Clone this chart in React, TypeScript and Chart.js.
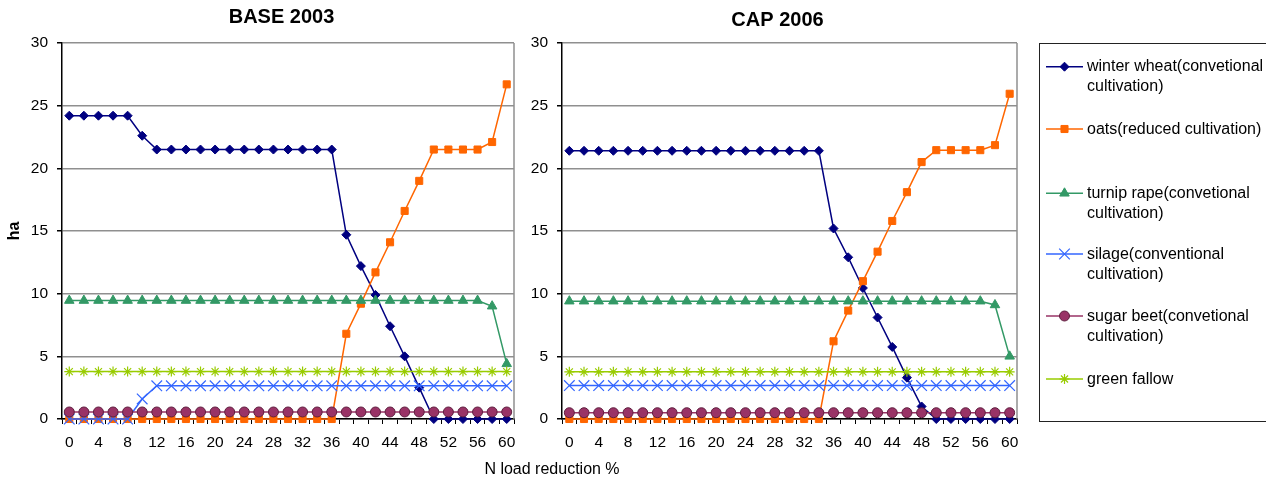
import React, { useEffect, useRef } from "react";
import { Chart, registerables } from "chart.js";
import { drawPoint } from "chart.js/helpers";

Chart.register(...registerables);

// ---------- data ----------
const xCategories = ["0","2","4","6","8","10","12","14","16","18","20","22","24","26","28","30","32","34","36","38","40","42","44","46","48","50","52","54","56","58","60"];

const seriesNames = [
  "winter wheat(convetional cultivation)",
  "oats(reduced cultivation)",
  "turnip rape(convetional cultivation)",
  "silage(conventional cultivation)",
  "sugar beet(convetional cultivation)",
  "green fallow",
];
const legendLines = [
  ["winter wheat(convetional", "cultivation)"],
  ["oats(reduced cultivation)"],
  ["turnip rape(convetional", "cultivation)"],
  ["silage(conventional", "cultivation)"],
  ["sugar beet(convetional", "cultivation)"],
  ["green fallow"],
];

// BASE 2003
const baseWheat = [24.2,24.2,24.2,24.2,24.2,22.6,21.5,21.5,21.5,21.5,21.5,21.5,21.5,21.5,21.5,21.5,21.5,21.5,21.5,14.7,12.2,9.9,7.4,5.0,2.5,0,0,0,0,0,0];
const baseOats = [0,0,0,0,0,0,0,0,0,0,0,0,0,0,0,0,0,0,0,6.8,9.2,11.7,14.1,16.6,19.0,21.5,21.5,21.5,21.5,22.1,26.7];
const baseTurnip = [9.45,9.45,9.45,9.45,9.45,9.45,9.45,9.45,9.45,9.45,9.45,9.45,9.45,9.45,9.45,9.45,9.45,9.45,9.45,9.45,9.45,9.45,9.45,9.45,9.45,9.45,9.45,9.45,9.45,9.0,4.4];
const baseSilage = [0,0,0,0,0,1.6,2.65,2.65,2.65,2.65,2.65,2.65,2.65,2.65,2.65,2.65,2.65,2.65,2.65,2.65,2.65,2.65,2.65,2.65,2.65,2.65,2.65,2.65,2.65,2.65,2.65];
const baseBeet = [0.56,0.56,0.56,0.56,0.56,0.56,0.56,0.56,0.56,0.56,0.56,0.56,0.56,0.56,0.56,0.56,0.56,0.56,0.56,0.56,0.56,0.56,0.56,0.56,0.56,0.56,0.56,0.56,0.56,0.56,0.56];
const baseFallow = [3.78,3.78,3.78,3.78,3.78,3.78,3.78,3.78,3.78,3.78,3.78,3.78,3.78,3.78,3.78,3.78,3.78,3.78,3.78,3.78,3.78,3.78,3.78,3.78,3.78,3.78,3.78,3.78,3.78,3.78,3.78];

// CAP 2006
const capWheat = [21.4,21.4,21.4,21.4,21.4,21.4,21.4,21.4,21.4,21.4,21.4,21.4,21.4,21.4,21.4,21.4,21.4,21.4,15.2,12.9,10.45,8.1,5.75,3.3,1.0,0,0,0,0,0,0];
const capOats = [0,0,0,0,0,0,0,0,0,0,0,0,0,0,0,0,0,0,6.2,8.65,11.0,13.35,15.8,18.1,20.5,21.45,21.45,21.45,21.45,21.85,25.95];
const capTurnip = [9.4,9.4,9.4,9.4,9.4,9.4,9.4,9.4,9.4,9.4,9.4,9.4,9.4,9.4,9.4,9.4,9.4,9.4,9.4,9.4,9.4,9.4,9.4,9.4,9.4,9.4,9.4,9.4,9.4,9.1,5.0];
const capSilage = [2.67,2.67,2.67,2.67,2.67,2.67,2.67,2.67,2.67,2.67,2.67,2.67,2.67,2.67,2.67,2.67,2.67,2.67,2.67,2.67,2.67,2.67,2.67,2.67,2.67,2.67,2.67,2.67,2.67,2.67,2.67];
const capBeet = [0.5,0.5,0.5,0.5,0.5,0.5,0.5,0.5,0.5,0.5,0.5,0.5,0.5,0.5,0.5,0.5,0.5,0.5,0.5,0.5,0.5,0.5,0.5,0.5,0.5,0.5,0.5,0.5,0.5,0.5,0.5];
const capFallow = [3.76,3.76,3.76,3.76,3.76,3.76,3.76,3.76,3.76,3.76,3.76,3.76,3.76,3.76,3.76,3.76,3.76,3.76,3.76,3.76,3.76,3.76,3.76,3.76,3.76,3.76,3.76,3.76,3.76,3.76,3.76];

const yTicks = [0, 5, 10, 15, 20, 25, 30];

// ---------- styles ----------
const FONT = "'Liberation Sans', Arial, Helvetica, sans-serif";
const seriesStyles = [
  { color: "#000080", fill: "#000080", edge: "#000080", pointStyle: "rectRot", radius: 4.5, bw: 1 },
  { color: "#FF6600", fill: "#FF6600", edge: "#FF6600", pointStyle: "rect", radius: 5, bw: 1 },
  { color: "#339966", fill: "#339966", edge: "#339966", pointStyle: "triangle", radius: 5.5, bw: 1 },
  { color: "#3366FF", fill: "#3366FF", edge: "#3366FF", pointStyle: "crossRot", radius: 7.5, bw: 1.2 },
  { color: "#993366", fill: "#993366", edge: "#5e1f3f", pointStyle: "circle", radius: 5, bw: 1 },
  { color: "#99CC00", fill: "#99CC00", edge: "#99CC00", pointStyle: "star", radius: 5, bw: 1.2 },
];

function makeDatasets(values: number[][]) {
  return values.map((v, i) => {
    const s = seriesStyles[i];
    return {
      label: seriesNames[i],
      data: v,
      borderColor: s.color,
      borderWidth: 1.5,
      backgroundColor: s.fill,
      pointBackgroundColor: s.fill,
      pointBorderColor: s.edge,
      pointBorderWidth: s.bw,
      pointStyle: s.pointStyle,
      pointRadius: s.radius,
      pointHoverRadius: s.radius,
      tension: 0,
      clip: false,
      order: 5 - i,
    };
  });
}

function makeOptions(yWidth: number, padRight: number) {
  return {
    responsive: false,
    animation: false,
    events: [],
    layout: { padding: { top: 43, right: padRight, left: 0, bottom: 0 } },
    plugins: {
      legend: { display: false },
      tooltip: { enabled: false },
      title: { display: false },
    },
    scales: {
      x: {
        type: "category",
        offset: true,
        grid: { display: true, drawOnChartArea: false, tickLength: 5, tickColor: "#000", offset: true, lineWidth: 1 },
        border: { color: "#000", width: 1.5 },
        ticks: {
          autoSkip: false,
          maxRotation: 0,
          color: "#000",
          padding: 9,
          font: { family: FONT, size: 15.5 },
          callback: (_v: any, i: number) => (i % 2 === 0 ? xCategories[i] : ""),
        },
        afterFit: (s: any) => { s.height = 59; },
      },
      y: {
        min: 0,
        max: 30,
        afterBuildTicks: (s: any) => { s.ticks = yTicks.map((v) => ({ value: v })); },
        grid: { color: "#8f8f8f", lineWidth: 1.5, tickLength: 5, tickColor: "#000" },
        border: { color: "#000", width: 1.5 },
        ticks: { color: "#000", padding: 9, font: { family: FONT, size: 15.5 } },
        afterFit: (s: any) => { s.width = yWidth; },
      },
    },
  };
}

function borderPlugin() {
  return {
    id: "plotBorder",
    beforeDatasetsDraw(chart: any) {
      const { ctx, chartArea: a } = chart;
      ctx.save();
      ctx.strokeStyle = "#8f8f8f";
      ctx.lineWidth = 1.5;
      ctx.beginPath();
      ctx.moveTo(a.right, a.top);
      ctx.lineTo(a.right, a.bottom);
      ctx.stroke();
      ctx.restore();
    },
  };
}

function baseTextPlugin() {
  return {
    id: "baseText",
    afterDraw(chart: any) {
      const ctx = chart.ctx;
      ctx.save();
      ctx.fillStyle = "#000";
      ctx.textAlign = "center";
      ctx.textBaseline = "alphabetic";
      ctx.font = `bold 20px ${FONT}`;
      ctx.fillText("BASE 2003", 281.5, 22.7);
      ctx.font = `16px ${FONT}`;
      ctx.fillText("N load reduction %", 552, 474);
      ctx.font = `bold 16px ${FONT}`;
      ctx.translate(19.3, 231);
      ctx.rotate(-Math.PI / 2);
      ctx.fillText("ha", 0, 0);
      ctx.restore();
    },
  };
}

function capTextPlugin(offsetX: number) {
  return {
    id: "capText",
    afterDraw(chart: any) {
      const ctx = chart.ctx;
      ctx.save();
      ctx.fillStyle = "#000";
      ctx.textAlign = "center";
      ctx.textBaseline = "alphabetic";
      ctx.font = `bold 20px ${FONT}`;
      ctx.fillText("CAP 2006", 777.5 - offsetX, 26);

      // legend box
      const bx = 1039.5 - offsetX;
      ctx.strokeStyle = "#222";
      ctx.lineWidth = 1;
      ctx.strokeRect(bx, 43.5, 1270 - offsetX - bx, 378);

      const markerY = [66.7, 129, 193.3, 254, 316, 379];
      ctx.textAlign = "left";
      ctx.font = `16px ${FONT}`;
      legendLines.forEach((lines, i) => {
        const s = seriesStyles[i];
        const y = markerY[i];
        ctx.strokeStyle = s.color;
        ctx.lineWidth = 1.5;
        ctx.beginPath();
        ctx.moveTo(1046 - offsetX, y);
        ctx.lineTo(1083 - offsetX, y);
        ctx.stroke();
        ctx.fillStyle = s.fill;
        ctx.strokeStyle = s.edge;
        ctx.lineWidth = s.bw;
        drawPoint(ctx, { pointStyle: s.pointStyle as any, radius: s.radius, rotation: 0, borderWidth: s.bw }, 1064.5 - offsetX, y);
        ctx.fillStyle = "#000";
        lines.forEach((t, k) => {
          ctx.fillText(t, 1087 - offsetX, y + 4.5 + k * 20);
        });
      });
      ctx.restore();
    },
  };
}

export default function App() {
  const ref1 = useRef<HTMLCanvasElement | null>(null);
  const ref2 = useRef<HTMLCanvasElement | null>(null);

  useEffect(() => {
    const c1 = new Chart(ref1.current as HTMLCanvasElement, {
      type: "line",
      data: {
        labels: xCategories,
        datasets: makeDatasets([baseWheat, baseOats, baseTurnip, baseSilage, baseBeet, baseFallow]) as any,
      },
      options: makeOptions(62, 640 - 514) as any,
      plugins: [borderPlugin(), baseTextPlugin()],
    });
    const c2 = new Chart(ref2.current as HTMLCanvasElement, {
      type: "line",
      data: {
        labels: xCategories,
        datasets: makeDatasets([capWheat, capOats, capTurnip, capSilage, capBeet, capFallow]) as any,
      },
      options: makeOptions(42, 746 - 497) as any,
      plugins: [borderPlugin(), capTextPlugin(520)],
    });
    return () => {
      c1.destroy();
      c2.destroy();
    };
  }, []);

  return (
    <div style={{ position: "fixed", left: 0, top: 0, width: 1266, height: 478, background: "#fff", overflow: "hidden" }}>
      <canvas ref={ref1} width={640} height={478} style={{ position: "absolute", left: 0, top: 0, width: 640, height: 478 }} />
      <canvas ref={ref2} width={746} height={478} style={{ position: "absolute", left: 520, top: 0, width: 746, height: 478 }} />
    </div>
  );
}
